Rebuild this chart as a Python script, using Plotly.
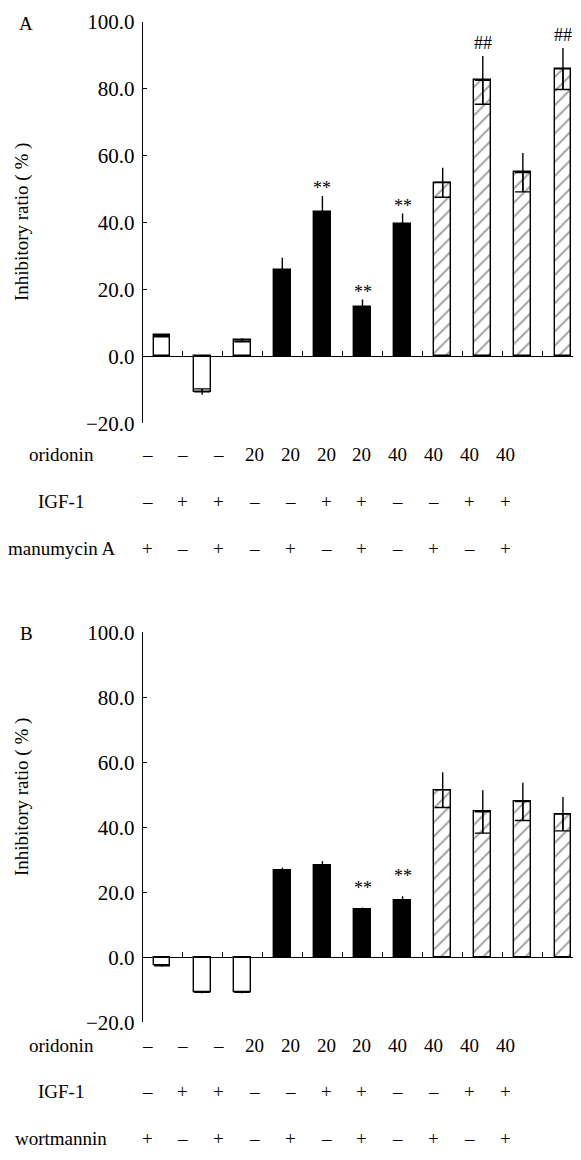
import plotly.graph_objects as go

# ---------------- data ----------------
oridonin = ["–", "–", "–", "20", "20", "20", "20", "40", "40", "40", "40"]
igf1 = ["–", "+", "+", "–", "–", "+", "+", "–", "–", "+", "+"]
manumycin = ["+", "–", "+", "–", "+", "–", "+", "–", "+", "–", "+"]
wortmannin = ["+", "–", "+", "–", "+", "–", "+", "–", "+", "–", "+"]

a_values = [6.3, -10.6, 4.9, 25.9, 43.2, 14.8, 39.7, 52.0, 82.6, 55.0, 86.0]
a_errors = [0.4, 0.9, 0.5, 3.6, 4.8, 2.2, 3.0, 4.4, 7.2, 5.8, 6.2]
a_marks = ["", "", "", "", "**", "**", "**", "", "##", "", "##"]

b_values = [-2.6, -10.8, -10.8, 26.8, 28.2, 14.9, 17.4, 51.5, 44.8, 47.9, 44.1]
b_errors = [0.3, 0.3, 0.3, 0.8, 1.4, 0.4, 1.4, 5.4, 6.6, 5.8, 5.2]
b_marks = ["", "", "", "", "", "**", "**", "", "", "", ""]

groups = ["open", "open", "open", "solid", "solid", "solid", "solid",
          "hatch", "hatch", "hatch", "hatch"]
y_ticks = [-20, 0, 20, 40, 60, 80, 100]

# ---------------- layout constants ----------------
PAGE_W, PAGE_H = 581, 1160
OFF = 8                       # default body margin of the html page
W, H = PAGE_W - OFF, PAGE_H - OFF
FONT = "Liberation Serif"


def px(x):
    return (x - OFF) / W


def py(y):
    return 1 - (y - OFF) / H


x_dom = [px(143), 1.0]
a_dom = [py(423.3), py(22)]
b_dom = [py(1022.3), py(632.3)]
y_range = [-20, 100]
x_range = [-0.475, 10.45]

colors = {"open": "white", "solid": "black", "hatch": "white"}
shapes = {"open": "", "solid": "", "hatch": "/"}

fig = go.Figure()
n = len(oridonin)
xs = list(range(n))


def add_panel(values, errors, xa, ya):
    fig.add_trace(go.Bar(
        x=xs, y=values, width=0.42, xaxis=xa, yaxis=ya,
        marker=dict(
            color=[colors[g] for g in groups],
            line=dict(color="black", width=1.4),
            pattern=dict(shape=[shapes[g] for g in groups], fgcolor="black",
                         bgcolor="white", size=10, solidity=0.2),
        ),
        error_y=dict(type="data", array=errors, symmetric=True, width=0,
                     thickness=1.4, color="black"),
        showlegend=False,
    ))
    # inner cap toward the base of each bar
    up = [e if v < 0 else 0 for v, e in zip(values, errors)]
    down = [e if v >= 0 else 0 for v, e in zip(values, errors)]
    fig.add_trace(go.Scatter(
        x=xs, y=values, mode="markers", xaxis=xa, yaxis=ya,
        marker=dict(size=1, color="rgba(0,0,0,0)"),
        error_y=dict(type="data", array=up, arrayminus=down, symmetric=False,
                     width=8, thickness=1.4, color="black"),
        showlegend=False, hoverinfo="skip",
    ))


add_panel(a_values, a_errors, "x", "y")
add_panel(b_values, b_errors, "x2", "y2")


def zero_pos(dom):
    return dom[0] + (0 - y_range[0]) / (y_range[1] - y_range[0]) * (dom[1] - dom[0])


xaxis_common = dict(range=x_range, domain=x_dom, anchor="free", showline=True,
                    linecolor="black", linewidth=1.4, ticks="inside", ticklen=5,
                    tickwidth=1.2, tickcolor="black", tickmode="array",
                    tickvals=[i + 0.5 for i in range(n - 1)], showticklabels=False,
                    showgrid=False, zeroline=False, fixedrange=True, automargin=False)
yaxis_common = dict(range=y_range, showline=True, linecolor="black", linewidth=1.4,
                    ticks="inside", ticklen=4, tickwidth=1.2, tickcolor="black",
                    tickmode="array", tickvals=y_ticks, tickformat=".1f",
                    showgrid=False, zeroline=False, automargin=False,
                    tickfont=dict(family=FONT, size=21, color="black"),
                    ticklabelstandoff=3, fixedrange=True)

fig.update_layout(
    width=W, height=H, margin=dict(l=0, r=0, t=0, b=0, pad=0, autoexpand=False),
    paper_bgcolor="white", plot_bgcolor="white", bargap=0,
    xaxis=dict(**xaxis_common, position=zero_pos(a_dom)),
    xaxis2=dict(**xaxis_common, position=zero_pos(b_dom)),
    yaxis=dict(**yaxis_common, domain=a_dom, anchor="x"),
    yaxis2=dict(**yaxis_common, domain=b_dom, anchor="x2"),
    font=dict(family=FONT, size=19, color="black"),
)

ann = []


def txt(x, y, text, size=19, **kw):
    ann.append(dict(x=px(x), y=py(y), xref="paper", yref="paper", text=text,
                    showarrow=False, xanchor="center", yanchor="middle",
                    font=dict(family=FONT, size=size, color="black"), **kw))


# panel letters and axis titles
txt(26, 23, "A")
txt(26, 633, "B")
txt(22, 222, "Inhibitory ratio ( % )", textangle=-90)
txt(22, 797, "Inhibitory ratio ( % )", textangle=-90)


# significance marks
def marks(values, errors, labels, xr, yr, shift):
    for i, (v, e, m) in enumerate(zip(values, errors, labels)):
        if m:
            ann.append(dict(x=i, y=v + e, xref=xr, yref=yr, text=m, showarrow=False,
                            xanchor="center", yanchor="bottom",
                            yshift=shift[m],
                            font=dict(family=FONT, size=18, color="black")))


marks(a_values, a_errors, a_marks, "x", "y", {"**": -4, "##": 1})
marks(b_values, b_errors, b_marks, "x2", "y2", {"**": 8, "##": 1})


# condition tables
def table(rows, row_y):
    for (label, vals), yp in zip(rows, row_y):
        txt(61, yp, label)
        for i, v in enumerate(vals):
            txt(147 + 35.8 * i, yp, v)


table([("oridonin", oridonin), ("IGF-1", igf1), ("manumycin A", manumycin)],
      [455, 501.7, 548])
table([("oridonin", oridonin), ("IGF-1", igf1), ("wortmannin", wortmannin)],
      [1045, 1091.7, 1138])

fig.update_layout(annotations=ann)
fig.write_html("out.html")
